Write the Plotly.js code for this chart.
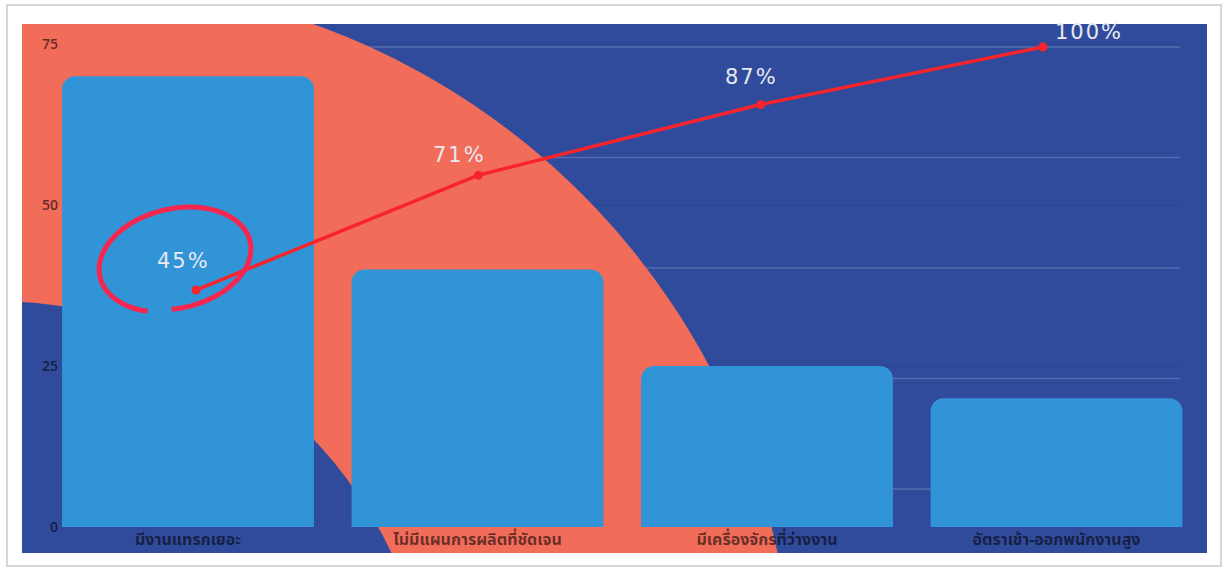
<!DOCTYPE html>
<html>
<head>
<meta charset="utf-8">
<script src="https://cdn.plot.ly/plotly-3.0.1.min.js"></script>
<style>
html,body{margin:0;padding:0;background:#fff;}
#chart{width:1227px;height:569px;}
.annotation-text{letter-spacing:2px;}
</style>
</head>
<body>
<div id="chart"></div>
<script>
// ---- data ----
const categories = ["มีงานแทรกเยอะ", "ไม่มีแผนการผลิตที่ชัดเจน", "มีเครื่องจักรที่ว่างงาน", "อัตราเข้า-ออกพนักงานสูง"];
const counts = [70, 40, 25, 20];
const cumulativePct = [45, 71, 87, 100];
const pctLabels = ["45%", "71%", "87%", "100%"];
const yTicks = [0, 25, 50, 75];
const pctGrid = [0, 25, 50, 75, 100];

// ---- geometry (pixels) ----
const W = 1227, H = 569;
const L = 22, R = 1207, T = 24, B = 553;
const barC0 = 188, barStep = 289.5;
const lineC0 = 196, lineStep = 282.33;
const yZero = 527, yPPU = 6.44;
const y2Zero = 489, y2PPU = 4.42;

const xRange = [(L - barC0) / barStep, (R - barC0) / barStep];
const x2Range = [(L - lineC0) / lineStep, (R - lineC0) / lineStep];
const yRange = [-(B - yZero) / yPPU, (yZero - T) / yPPU];
const y2Range = [-(B - y2Zero) / y2PPU, (y2Zero - T) / y2PPU];

const px2x = p => (p - barC0) / barStep;
const py2y = p => (yZero - p) / yPPU;
const ppx = p => (p - L) / (R - L);
const ppy = p => (B - p) / (B - T);

const BLUE = '#304b9c', SALMON = '#f26c5a', BAR = '#3194d7', RED = '#f7242c';

function circleShape(cx, cy, r, color) {
  return {type: 'circle', xref: 'x', yref: 'y', layer: 'below',
    x0: px2x(cx - r), x1: px2x(cx + r), y0: py2y(cy + r), y1: py2y(cy - r),
    fillcolor: color, line: {width: 0}};
}

// hand-drawn ellipse around first label
function scribble() {
  const cx = 176, cy = 259, rx = 75, ry = 49, rot = -13 * Math.PI / 180;
  let d = '';
  const n = 90;
  for (let k = 0; k <= n; k++) {
    const t = (102 - 342 * k / n) * Math.PI / 180;
    const s = 1 + 0.05 * (k / n);
    let ex = rx * s * Math.cos(t), ey = ry * s * Math.sin(t);
    const x = cx + ex * Math.cos(rot) - ey * Math.sin(rot);
    const y = cy + ex * Math.sin(rot) + ey * Math.cos(rot);
    d += (k === 0 ? 'M' : 'L') + ppx(x).toFixed(5) + ',' + ppy(y).toFixed(5) + ' ';
  }
  return {type: 'path', xref: 'paper', yref: 'paper', layer: 'above', path: d,
    line: {color: '#f7264f', width: 5}};
}

const shapes = [
  {type: 'rect', xref: 'paper', yref: 'paper', layer: 'below',
   x0: ppx(7), x1: ppx(1221), y0: ppy(566), y1: ppy(5),
   line: {color: 'rgba(0,0,0,0.16)', width: 2}, fillcolor: 'rgba(0,0,0,0)'},
  circleShape(70, 706, 724, SALMON),
  circleShape(-7, 742, 441, BLUE),
];
yTicks.filter(v => v > 0).forEach(v => shapes.push({type: 'line', xref: 'paper', yref: 'y', layer: 'below',
  x0: ppx(52), x1: ppx(1180), y0: v, y1: v, line: {color: 'rgba(0,0,0,0.07)', width: 1.5}}));
pctGrid.forEach(v => shapes.push({type: 'line', xref: 'paper', yref: 'y2', layer: 'below',
  x0: ppx(52), x1: ppx(1180), y0: v, y1: v, line: {color: 'rgba(255,255,255,0.18)', width: 1.5}}));
shapes.push(scribble());

const labelShift = [[-13, 29], [-19, 20], [-9, 27], [46, 15]];
const annotations = pctLabels.map((t, i) => ({
  x: categories[i], y: cumulativePct[i], xref: 'x2', yref: 'y2', text: t, showarrow: false,
  xshift: labelShift[i][0], yshift: labelShift[i][1],
  font: {family: 'DejaVu Sans, Open Sans, sans-serif', size: 21, color: '#e8e8f0'}
}));

const thaiFont = 'Noto Sans Thai, Kanit, Sarabun, Tahoma, Noto Sans, sans-serif';

const traces = [
  {type: 'bar', x: categories, y: counts, xaxis: 'x', yaxis: 'y',
   marker: {color: BAR, cornerradius: 13, line: {width: 0}}, hoverinfo: 'skip'},
  {type: 'scatter', mode: 'lines+markers', x: categories, y: cumulativePct, xaxis: 'x2', yaxis: 'y2',
   line: {color: RED, width: 3.5}, marker: {color: RED, size: 9}, hoverinfo: 'skip'}
];

const layout = {
  width: W, height: H,
  margin: {l: L, r: W - R, t: T, b: H - B, pad: 0},
  paper_bgcolor: '#ffffff', plot_bgcolor: BLUE,
  showlegend: false, bargap: 0.13,
  xaxis: {type: 'category', range: xRange, anchor: 'free', position: ppy(yZero + 1),
    showgrid: false, zeroline: false, showline: false, ticks: '',
    tickfont: {family: thaiFont, size: 16, weight: 'bold', color: 'rgba(0,0,0,0.58)'}, fixedrange: true},
  xaxis2: {type: 'category', range: x2Range, overlaying: 'x', visible: false, fixedrange: true},
  yaxis: {range: yRange, tickvals: yTicks, anchor: 'free', position: ppx(58),
    showgrid: false, zeroline: false, showline: false, ticks: '',
    tickfont: {family: 'Open Sans, sans-serif', size: 14, weight: 600, color: 'rgba(0,0,0,0.6)'}, fixedrange: true},
  yaxis2: {range: y2Range, overlaying: 'y', visible: false, fixedrange: true},
  shapes: shapes,
  annotations: annotations
};

Plotly.newPlot('chart', traces, layout, {displayModeBar: false, staticPlot: true});
</script>
</body>
</html>
